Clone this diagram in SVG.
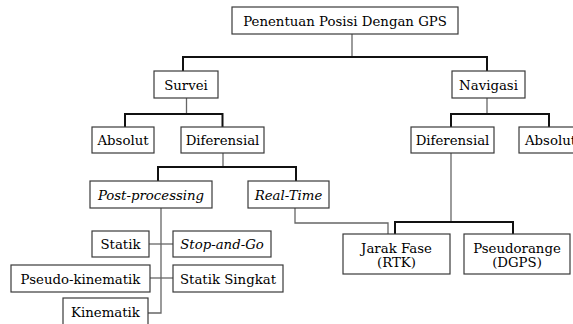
<svg xmlns="http://www.w3.org/2000/svg" width="573" height="324" viewBox="0 0 573 324">
<style>
.box{fill:#fff;stroke:#3a3a3a;stroke-width:1.2}
.t{font-family:"DejaVu Serif","Liberation Serif",serif;font-size:13.3px;fill:#000;text-anchor:middle}
.i{font-style:italic}
.k{fill:none;stroke:#111;stroke-width:2}
.g{fill:none;stroke:#666;stroke-width:1.3}
</style>
<rect width="573" height="324" fill="#fff"/>
<g id="connectors">
<path class="g" d="M352 34V57"/>
<path class="k" d="M183 71V57H487V71"/>
<path class="g" d="M186.5 98V114"/>
<path class="k" d="M125 127V114H222.5V127"/>
<path class="g" d="M223 153V167"/>
<path class="k" d="M158 181V167H296V181"/>
<path class="g" d="M487 98V114"/>
<path class="k" d="M451 127V114H549V127"/>
<path class="g" d="M451 153V222"/>
<path class="k" d="M395 234V222H513V234"/>
<path class="g" d="M295 208V223H388V234"/>
<path class="g" d="M161 208V313H148"/>
<path class="g" d="M149 244H173"/>
<path class="g" d="M150 278H173"/>
</g>
<g id="n-root"><rect class="box" x="232" y="7" width="226" height="27"/><text class="t" x="345" y="25.5">Penentuan Posisi Dengan GPS</text></g>
<g id="n-survei"><rect class="box" x="154" y="71" width="64" height="27"/><text class="t" x="186" y="89.5">Survei</text></g>
<g id="n-navigasi"><rect class="box" x="452" y="71" width="73" height="27"/><text class="t" x="488.5" y="89.5">Navigasi</text></g>
<g id="n-absolut1"><rect class="box" x="92" y="127" width="62" height="26"/><text class="t" x="123" y="145">Absolut</text></g>
<g id="n-diferensial1"><rect class="box" x="181" y="127" width="83" height="26"/><text class="t" x="222.5" y="145">Diferensial</text></g>
<g id="n-diferensial2"><rect class="box" x="411" y="127" width="83" height="26"/><text class="t" x="452.5" y="145">Diferensial</text></g>
<g id="n-absolut2"><rect class="box" x="519" y="127" width="62" height="26"/><text class="t" x="525" y="145" style="text-anchor:start">Absolut</text></g>
<g id="n-post"><rect class="box" x="90" y="181" width="122" height="27"/><text class="t i" x="151" y="199.5">Post-processing</text></g>
<g id="n-realtime"><rect class="box" x="248" y="181" width="81" height="27"/><text class="t i" x="288.5" y="199.5">Real-Time</text></g>
<g id="n-statik"><rect class="box" x="92" y="231" width="57" height="26"/><text class="t" x="120.5" y="249">Statik</text></g>
<g id="n-stopgo"><rect class="box" x="173" y="231" width="98" height="26"/><text class="t i" x="222" y="249">Stop-and-Go</text></g>
<g id="n-pseudokin"><rect class="box" x="11" y="265" width="139" height="27"/><text class="t" x="80.5" y="283.5">Pseudo-kinematik</text></g>
<g id="n-statiksingkat"><rect class="box" x="173" y="265" width="110" height="27"/><text class="t" x="228" y="283.5">Statik Singkat</text></g>
<g id="n-kinematik"><rect class="box" x="63" y="298" width="85" height="30"/><text class="t" x="105.5" y="317">Kinematik</text></g>
<g id="n-jarakfase"><rect class="box" x="343" y="234" width="107" height="40"/><text class="t" x="396.5" y="253">Jarak Fase</text><text class="t" x="396.5" y="267">(RTK)</text></g>
<g id="n-pseudorange"><rect class="box" x="464" y="234" width="106" height="40"/><text class="t" x="517" y="253">Pseudorange</text><text class="t" x="517" y="267">(DGPS)</text></g>
</svg>
